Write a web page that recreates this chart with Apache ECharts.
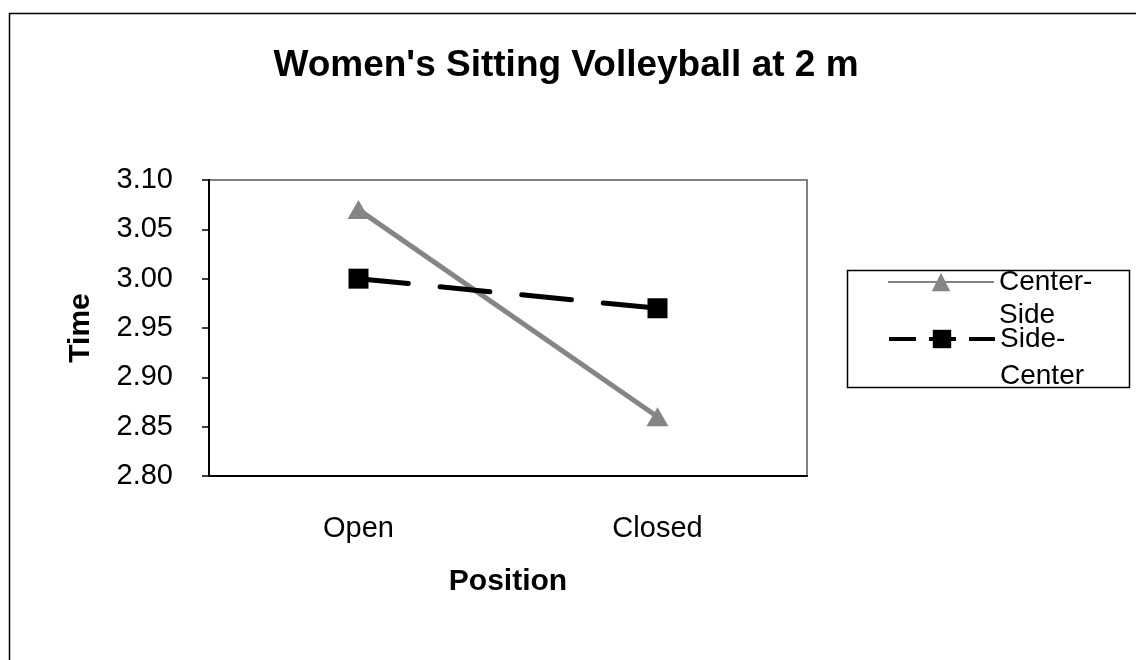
<!DOCTYPE html>
<html>
<head>
<meta charset="utf-8">
<script src="https://cdn.jsdelivr.net/npm/echarts@6/dist/echarts.min.js"></script>
<style>
html,body{margin:0;padding:0;background:#fff;}
#chart{width:1136px;height:660px;}
</style>
</head>
<body>
<div id="chart"></div>
<script>
const categories = ['Open', 'Closed'];
const centerSide = [3.07, 2.86];
const sideCenter = [3.00, 2.97];
const seriesNames = ['Center-Side', 'Side-Center'];
const legendText = {'Center-Side': '\nCenter-\nSide', 'Side-Center': '\nSide-\nCenter'};
const yMin = 2.80, yMax = 3.10, yStep = 0.05;

const FONT = "'Liberation Sans', Arial, sans-serif";
const chart = echarts.init(document.getElementById('chart'));
chart.setOption({
  animation: false,
  backgroundColor: '#fff',
  title: {
    text: "Women's Sitting Volleyball at 2 m",
    left: 566, top: 47, textAlign: 'center', padding: 0,
    textStyle: {fontFamily: FONT, fontSize: 37, fontWeight: 'bold', color: '#000'}
  },
  graphic: [
    {type: 'rect', shape: {x: 9.5, y: 13.5, width: 1300, height: 800},
     style: {fill: 'none', stroke: '#000', lineWidth: 1.5}, silent: true, z: -1},
    {type: 'rect', shape: {x: 847.5, y: 270.5, width: 282, height: 117},
     style: {fill: 'none', stroke: '#000', lineWidth: 1.5}, silent: true}
  ],
  legend: [
    {
      data: [{name: seriesNames[0], lineStyle: {width: 2, color: '#858585'}}],
      left: 887, top: 232.5, padding: 0, orient: 'vertical',
      itemWidth: 106, itemHeight: 23, selectedMode: false,
      formatter: n => legendText[n],
      textStyle: {fontFamily: FONT, fontSize: 28, color: '#000', lineHeight: 33}
    },
    {
      data: [{name: seriesNames[1], lineStyle: {width: 4, color: '#000', type: [27, 13], cap: 'butt'}}],
      left: 887, top: 283.5, padding: 0, orient: 'vertical',
      itemWidth: 106, itemHeight: 23, selectedMode: false,
      formatter: n => legendText[n],
      textStyle: {fontFamily: FONT, fontSize: 28, color: '#000', lineHeight: 37}
    }
  ],
  grid: {
    left: 209, right: 329, top: 180, bottom: 184,
    show: true, borderColor: '#808080', borderWidth: 2, backgroundColor: '#fff'
  },
  xAxis: {
    type: 'category', data: categories, boundaryGap: true,
    name: 'Position', nameLocation: 'middle', nameGap: 91,
    nameTextStyle: {fontFamily: FONT, fontSize: 30, fontWeight: 'bold', color: '#000'},
    axisLine: {lineStyle: {color: '#000', width: 2}},
    axisTick: {length: 10, lineStyle: {color: '#000', width: 1.5}},
    axisLabel: {fontFamily: FONT, fontSize: 29, color: '#000', margin: 38},
    splitLine: {show: false}
  },
  yAxis: {
    type: 'value', min: yMin, max: yMax, interval: yStep,
    name: 'Time', nameLocation: 'middle', nameGap: 113,
    nameTextStyle: {fontFamily: FONT, fontSize: 30, fontWeight: 'bold', color: '#000'},
    axisLine: {show: true, lineStyle: {color: '#000', width: 2}},
    axisTick: {show: true, length: 7, lineStyle: {color: '#000', width: 1.5}},
    axisLabel: {fontFamily: FONT, fontSize: 29, color: '#000', margin: 36,
      formatter: v => v.toFixed(2)},
    splitLine: {show: false}
  },
  series: [
    {
      name: seriesNames[0], type: 'line', data: centerSide,
      symbol: 'triangle', symbolSize: [22, 19],
      lineStyle: {color: '#858585', width: 5},
      itemStyle: {color: '#858585', borderWidth: 0}
    },
    {
      name: seriesNames[1], type: 'line', data: sideCenter,
      symbol: 'rect', symbolSize: [20, 20],
      lineStyle: {color: '#000', width: 5, type: [50, 32], cap: 'round'},
      itemStyle: {color: '#000', borderWidth: 0}
    }
  ]
});
</script>
</body>
</html>
